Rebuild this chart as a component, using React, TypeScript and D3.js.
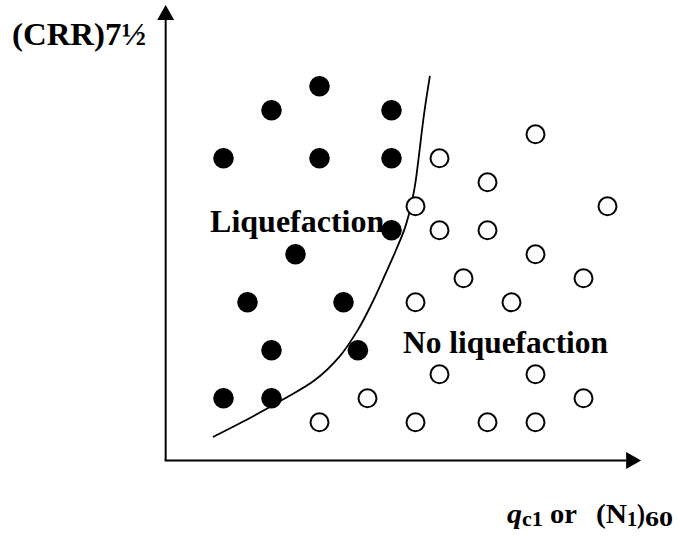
import React from "react";
import * as d3 from "d3";

// Liquefaction case histories (schematic), in grid units
const liqX = [5, 3, 8, 1, 5, 8, 8, 4, 2, 6, 3, 6.6, 1, 3];
const liqY = [15, 14, 14, 12, 12, 12, 9, 8, 6, 6, 4, 4, 2, 2];

const noLiqX = [14, 10, 12, 9, 17, 10, 12, 14, 11, 16, 9, 13, 10, 14, 7, 16, 5, 9, 12, 14];
const noLiqY = [13, 12, 11, 10, 10, 9, 9, 8, 7, 7, 6, 6, 3, 3, 2, 2, 1, 1, 1, 1];

// Boundary curve
const curveX = [0.56, 2.1, 3.44, 4.81, 5.85, 6.6, 7.19, 7.73, 8.19, 8.56, 8.81, 9.0, 9.13, 9.25, 9.38, 9.6];
const curveY = [0.39, 1.18, 1.93, 2.76, 3.76, 4.85, 5.97, 7.14, 8.18, 9.1, 10.01, 11.01, 12.01, 13.01, 14.01, 15.43];

// Axis extents (grid units)
const xAxisExtent = [-1.41, 18.4];
const yAxisExtent = [-0.59, 18.39];

const W = 678;
const H = 536;

export default function App() {
  const x = d3.scaleLinear().domain([1, 17]).range([223.5, 607.5]);
  const y = d3.scaleLinear().domain([1, 15]).range([422.3, 86.3]);

  const x0 = x(xAxisExtent[0]);
  const x1 = x(xAxisExtent[1]);
  const y0 = y(yAxisExtent[0]);
  const y1 = y(yAxisExtent[1]);

  const line = d3
    .line<number>()
    .x((_, i) => x(curveX[i]))
    .y((_, i) => y(curveY[i]))
    .curve(d3.curveCatmullRom.alpha(0.5));

  const ah = 15; // arrow head length
  const aw = 8.5; // half width

  const serif = "'Liberation Serif', 'Times New Roman', serif";

  return (
    <svg
      width={W}
      height={H}
      style={{ position: "absolute", left: 0, top: 0, background: "#fff" }}
      fontFamily={serif}
      fontWeight="bold"
    >
      {/* axes */}
      <line x1={x0} y1={y0} x2={x0} y2={y1 + ah} stroke="#000" strokeWidth={2} />
      <path d={`M${x0},${y1} L${x0 - aw},${y1 + ah} L${x0 + aw},${y1 + ah} Z`} fill="#000" />
      <line x1={x0 - 1} y1={y0} x2={x1 - ah} y2={y0} stroke="#000" strokeWidth={2} />
      <path d={`M${x1},${y0} L${x1 - ah},${y0 - aw} L${x1 - ah},${y0 + aw} Z`} fill="#000" />

      {/* boundary curve */}
      <path d={line(curveX) || ""} fill="none" stroke="#000" strokeWidth={1.8} />

      {/* open circles */}
      {noLiqX.map((v, i) => (
        <circle key={"o" + i} cx={x(v)} cy={y(noLiqY[i])} r={9} fill="#fff" stroke="#000" strokeWidth={2} />
      ))}

      {/* labels */}
      <text x={x(0.44)} y={y(8.93)} fontSize={32}>Liquefaction</text>
      <text x={x(8.48)} y={y(3.875)} fontSize={32} textLength={205} lengthAdjust="spacingAndGlyphs">
        No liquefaction
      </text>

      {/* filled circles */}
      {liqX.map((v, i) => (
        <circle key={"f" + i} cx={x(v)} cy={y(liqY[i])} r={10.3} fill="#000" />
      ))}

      {/* axis titles */}
      <text x={12} y={45} fontSize={31} textLength={134} lengthAdjust="spacingAndGlyphs">
        (CRR)7½
      </text>
      <g fontSize={28}>
        <text x={507} y={523} fontStyle="italic" textLength={15} lengthAdjust="spacingAndGlyphs">q</text>
        <text x={522} y={526} fontSize={20} textLength={21} lengthAdjust="spacingAndGlyphs">c1</text>
        <text x={550} y={523} textLength={27} lengthAdjust="spacingAndGlyphs">or</text>
        <text x={596} y={523} textLength={31} lengthAdjust="spacingAndGlyphs">(N</text>
        <text x={627} y={526} fontSize={20} textLength={10} lengthAdjust="spacingAndGlyphs">1</text>
        <text x={637} y={523} textLength={8} lengthAdjust="spacingAndGlyphs">)</text>
        <text x={645} y={526} fontSize={20} textLength={28} lengthAdjust="spacingAndGlyphs">60</text>
      </g>
    </svg>
  );
}
